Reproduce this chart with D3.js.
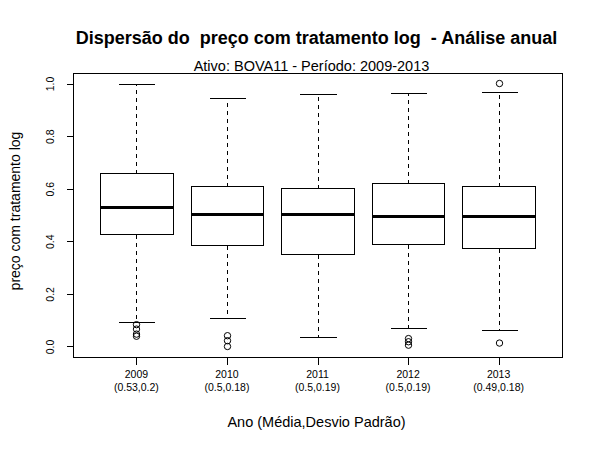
<!DOCTYPE html>
<html>
<head>
<meta charset="utf-8">
<script src="https://cdn.jsdelivr.net/npm/d3@7"></script>
<style>
html,body{margin:0;padding:0;background:#fff;}
svg{display:block;}
text{font-family:"Liberation Sans",Arial,sans-serif;fill:#000;}
</style>
</head>
<body>
<script>
// ---- data ----
const years = ["2009", "2010", "2011", "2012", "2013"];
const statLabels = ["(0.53,0.2)", "(0.5,0.18)", "(0.5,0.19)", "(0.5,0.19)", "(0.49,0.18)"];
const lowerWhisker = [0.093, 0.108, 0.036, 0.070, 0.062];
const q1 = [0.429, 0.387, 0.352, 0.391, 0.375];
const medians = [0.531, 0.505, 0.505, 0.496, 0.496];
const q3 = [0.660, 0.611, 0.601, 0.620, 0.611];
const upperWhisker = [1.000, 0.946, 0.961, 0.965, 0.968];
const outliers = [
  [0.083, 0.066, 0.047, 0.039],
  [0.041, 0.022, 0.000],
  [],
  [0.030, 0.018, 0.005],
  [0.013, 1.000]
];
const yTicks = [0, 0.2, 0.4, 0.6, 0.8, 1.0];
const titleText = "Dispersão do  preço com tratamento log  - Análise anual";
const subtitleText = "Ativo: BOVA11 - Período: 2009-2013";
const yLabel = "preço com tratamento log";
const xLabel = "Ano (Média,Desvio Padrão)";

// ---- layout ----
const W = 600, H = 450;
const plot = {left: 73, right: 562, top: 73, bottom: 357};

const svg = d3.select("body").append("svg")
  .attr("width", W).attr("height", H);

const x = d3.scaleLinear().domain([0.3, 5.7]).range([plot.left, plot.right]);
const y = d3.scaleLinear().domain([-0.04, 1.04]).range([plot.bottom, plot.top]);

const px = v => Math.round(v) + 0.5;

const data = years.map((yr, i) => ({
  i: i + 1, yr, lw: lowerWhisker[i], q1: q1[i], med: medians[i],
  q3: q3[i], uw: upperWhisker[i], out: outliers[i]
}));

const g = svg.append("g");

// whiskers (dashed)
g.selectAll("line.wup").data(data).enter().append("line")
  .attr("x1", d => px(x(d.i))).attr("x2", d => px(x(d.i)))
  .attr("y1", d => px(y(d.q3))).attr("y2", d => px(y(d.uw)))
  .attr("stroke", "#000").attr("stroke-dasharray", "4,4").attr("shape-rendering", "crispEdges");
g.selectAll("line.wlo").data(data).enter().append("line")
  .attr("x1", d => px(x(d.i))).attr("x2", d => px(x(d.i)))
  .attr("y1", d => px(y(d.q1))).attr("y2", d => px(y(d.lw)))
  .attr("stroke", "#000").attr("stroke-dasharray", "4,4").attr("shape-rendering", "crispEdges");

// caps
["uw", "lw"].forEach(k => {
  g.selectAll("line.cap" + k).data(data).enter().append("line")
    .attr("x1", d => px(x(d.i - 0.2))).attr("x2", d => px(x(d.i + 0.2)))
    .attr("y1", d => px(y(d[k]))).attr("y2", d => px(y(d[k])))
    .attr("stroke", "#000").attr("shape-rendering", "crispEdges");
});

// boxes
g.selectAll("rect.box").data(data).enter().append("rect")
  .attr("x", d => px(x(d.i - 0.4)))
  .attr("width", d => Math.round(x(d.i + 0.4)) - Math.round(x(d.i - 0.4)))
  .attr("y", d => px(y(d.q3)))
  .attr("height", d => Math.round(y(d.q1)) - Math.round(y(d.q3)))
  .attr("fill", "#fff").attr("stroke", "#000").attr("shape-rendering", "crispEdges");

// medians
g.selectAll("line.med").data(data).enter().append("line")
  .attr("x1", d => Math.round(x(d.i - 0.4))).attr("x2", d => Math.round(x(d.i + 0.4)) + 1)
  .attr("y1", d => px(y(d.med))).attr("y2", d => px(y(d.med)))
  .attr("stroke", "#000").attr("stroke-width", 3).attr("shape-rendering", "crispEdges");

// outliers
data.forEach(d => {
  g.selectAll(null).data(d.out).enter().append("circle")
    .attr("cx", px(x(d.i))).attr("cy", v => y(v))
    .attr("r", 3.2).attr("fill", "none").attr("stroke", "#000").attr("stroke-width", 1);
});

// plot frame
svg.append("rect")
  .attr("x", plot.left + 0.5).attr("y", plot.top + 0.5)
  .attr("width", plot.right - plot.left).attr("height", plot.bottom - plot.top)
  .attr("fill", "none").attr("stroke", "#000").attr("shape-rendering", "crispEdges");

// y axis
const yAxis = d3.axisLeft(y).tickValues(yTicks).tickSize(7).tickFormat(d3.format(".1f"));
const ya = svg.append("g").attr("transform", `translate(${plot.left + 0.5},0)`).call(yAxis);
ya.select(".domain").remove();
ya.selectAll(".tick line").attr("shape-rendering", "crispEdges");
ya.selectAll(".tick text")
  .attr("x", null).attr("dy", null).attr("y", null)
  .attr("text-anchor", "middle")
  .attr("transform", "translate(-20,0) rotate(-90)")
  .style("font-family", "'Liberation Sans', Arial, sans-serif")
  .style("font-size", "10.5px");

// x axis
const xAxis = d3.axisBottom(x).tickValues(data.map(d => d.i)).tickSize(7).tickFormat("");
const xa = svg.append("g").attr("transform", `translate(0,${plot.bottom + 0.5})`).call(xAxis);
xa.select(".domain").remove();
xa.selectAll(".tick line").attr("shape-rendering", "crispEdges");

const xl = svg.append("g");
xl.selectAll("text.yr").data(data).enter().append("text")
  .attr("x", d => x(d.i)).attr("y", 377.5)
  .attr("text-anchor", "middle").style("font-size", "10.5px")
  .text(d => d.yr);
xl.selectAll("text.st").data(data).enter().append("text")
  .attr("x", d => x(d.i)).attr("y", 390.5)
  .attr("text-anchor", "middle").style("font-size", "10.5px")
  .text((d, i) => statLabels[i]);

// titles
const cx = (plot.left + plot.right) / 2;
svg.append("text").attr("x", cx - 1).attr("y", 44)
  .attr("text-anchor", "middle").style("font-size", "18px").style("font-weight", "bold")
  .style("white-space", "pre").attr("xml:space", "preserve")
  .text(titleText);
svg.append("text").attr("x", cx - 6).attr("y", 71)
  .attr("text-anchor", "middle").style("font-size", "14.5px")
  .text(subtitleText);
svg.append("text").attr("x", cx - 1).attr("y", 427)
  .attr("text-anchor", "middle").style("font-size", "14.5px")
  .text(xLabel);
svg.append("text")
  .attr("transform", `translate(19.5,${(plot.top + plot.bottom) / 2 - 4}) rotate(-90)`)
  .attr("text-anchor", "middle").style("font-size", "14px")
  .text(yLabel);
</script>
</body>
</html>
